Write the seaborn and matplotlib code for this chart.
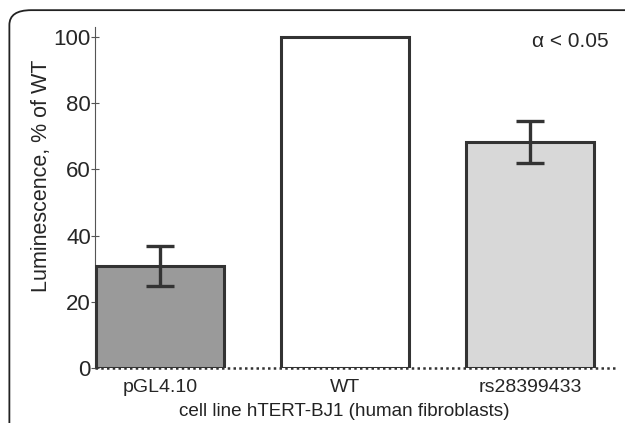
import matplotlib
matplotlib.use("Agg")
import matplotlib.pyplot as plt
import pandas as pd
import seaborn as sns
from matplotlib.patches import FancyBboxPatch


CONSTRUCTS = ["pGL4.10", "WT", "rs28399433"]
LUMINESCENCE = [30.8, 100.0, 68.3]
ERROR = [6.1, 0.0, 6.4]
BAR_COLORS = ["#9a9a9a", "#ffffff", "#d8d8d8"]

EDGE = "#333333"


def main() -> None:
    sns.set_style("white")
    plt.rcParams["font.family"] = ["Liberation Sans", "DejaVu Sans"]

    data = pd.DataFrame({"construct": CONSTRUCTS, "luminescence": LUMINESCENCE})

    fig = plt.figure(figsize=(6.25, 4.23), dpi=100)
    ax = fig.add_axes([0.152, 0.130, 0.832, 0.806])

    sns.barplot(
        data=data,
        x="construct",
        y="luminescence",
        hue="construct",
        palette=BAR_COLORS,
        width=0.69,
        edgecolor=EDGE,
        linewidth=2.2,
        legend=False,
        ax=ax,
        zorder=3,
    )

    err_x = [i for i, e in enumerate(ERROR) if e > 0]
    err_y = [LUMINESCENCE[i] for i in err_x]
    err_v = [ERROR[i] for i in err_x]
    ax.errorbar(
        err_x, err_y, yerr=err_v, fmt="none", ecolor=EDGE,
        elinewidth=2.4, capsize=10, capthick=2.4, zorder=4,
    )

    ax.set_xlim(-0.35, 2.46)
    ax.set_ylim(0, 103)
    ax.set_yticks([0, 20, 40, 60, 80, 100])

    for side in ["top", "right"]:
        ax.spines[side].set_visible(False)
    ax.spines["left"].set_color("#555555")
    ax.spines["left"].set_linewidth(0.8)
    ax.spines["bottom"].set_color(EDGE)
    ax.spines["bottom"].set_linewidth(1.8)
    ax.spines["bottom"].set_linestyle((0, (1, 1.3)))
    ax.spines["bottom"].set_capstyle("butt")

    ax.tick_params(axis="y", direction="inout", length=6, width=0.8,
                   color="#555555", labelsize=16, pad=0, left=True)
    ax.tick_params(axis="x", length=0, labelsize=14, pad=8)

    ax.set_ylabel("Luminescence, % of WT", fontsize=15.5)
    ax.yaxis.set_label_coords(-0.082, 0.565)
    ax.set_xlabel("cell line hTERT-BJ1 (human fibroblasts)", fontsize=13.6,
                  color="#222222")
    ax.xaxis.set_label_coords(0.48, -0.102)

    ax.text(0.988, 0.985, "\u03b1 < 0.05", transform=ax.transAxes,
            ha="right", va="top", fontsize=15)

    border = FancyBboxPatch(
        (0.015, -0.1), 1.1, 1.076,
        boxstyle="round,pad=0,rounding_size=0.035",
        transform=fig.transFigure, fill=False, edgecolor="#222222",
        linewidth=1.3, zorder=0,
    )
    fig.patches.append(border)

    fig.savefig("out.png", dpi=100)
    plt.close(fig)


if __name__ == "__main__":
    main()
